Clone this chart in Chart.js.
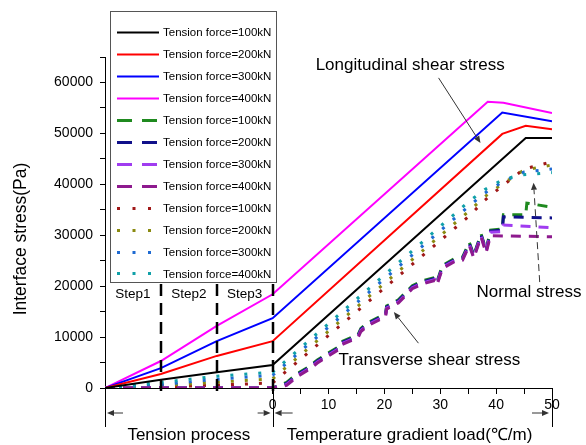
<!DOCTYPE html>
<html>
<head>
<meta charset="utf-8">
<script src="https://cdn.jsdelivr.net/npm/chart.js@4.4.0/dist/chart.umd.min.js"></script>
<style>
  html, body { margin: 0; padding: 0; background: #fff; }
  #wrap { width: 586px; height: 445px; position: relative; }
</style>
</head>
<body>
<div id="wrap"><canvas id="chart" width="586" height="445"></canvas></div>
<script>
  // x: -30..0 = tension process (3 steps), 0..50 = temperature gradient load
  const tensionLabels = ['Tension force=100kN', 'Tension force=200kN', 'Tension force=300kN', 'Tension force=400kN'];

  // longitudinal shear stress (solid)
  const longi100 = [[-30, 0], [-20, 1600], [-10, 3100], [0, 4500], [45.3, 49100], [50, 49100]];
  const longi200 = [[-30, 0], [-20, 2750], [-10, 6300], [0, 9200], [41.1, 49900], [45.3, 51500], [50, 50800]];
  const longi300 = [[-30, 0], [-20, 3900], [-10, 9200], [0, 13700], [41.1, 54100], [50, 52400]];
  const longi400 = [[-30, 0], [-20, 5300], [-10, 12200], [0, 18400], [38.5, 56200], [41.3, 56000], [50, 54000]];

  // transverse shear stress (dashed)
  const trans100 = [[-30, 0], [-20, 0], [-10, 0], [0, 0], [2.5, 1100], [4.5, 2900], [6.5, 4200], [8, 5500], [10, 6900], [11.8, 8100], [12.3, 9100], [14.5, 10100], [15.3, 10500], [15.8, 11700], [17, 12800], [19.5, 14200], [20.2, 14500], [20.4, 16100], [22.5, 17300], [25, 20100], [27, 21100], [29, 21700], [29.4, 20800], [30.4, 24100], [32.7, 25500], [34, 25700], [35.2, 28600], [36, 26100], [37.3, 30300], [38.2, 27100], [39, 31000], [41.1, 31200], [41.3, 34000], [45.3, 34000], [45.5, 36300], [50, 35500]];
  const trans200 = [[-30, 0], [-20, 0], [-10, 0], [0, 0], [2.5, 900], [4.5, 2700], [6.5, 4000], [8, 5300], [10, 6700], [11.8, 7900], [12.3, 8900], [14.5, 9900], [15.3, 10300], [15.8, 11500], [17, 12600], [19.5, 14000], [20.2, 14300], [20.4, 15900], [22.5, 17100], [25, 19900], [27, 20900], [29, 21500], [29.4, 20600], [30.4, 23900], [32.7, 25300], [34, 25500], [35.2, 28400], [36, 25900], [37.3, 30100], [38.2, 26900], [39, 30800], [41.1, 31000], [41.3, 33600], [50, 33400]];
  const trans300 = [[-30, 0], [-20, 0], [-10, 0], [0, 0], [2.5, 700], [4.5, 2500], [6.5, 3800], [8, 5100], [10, 6500], [11.8, 7700], [12.3, 8700], [14.5, 9700], [15.3, 10100], [15.8, 11300], [17, 12400], [19.5, 13800], [20.2, 14100], [20.4, 15700], [22.5, 16900], [25, 19700], [27, 20700], [29, 21300], [29.4, 20400], [30.4, 23700], [32.7, 25100], [34, 25300], [35.2, 28200], [36, 25700], [37.3, 29900], [38.2, 26700], [39, 30600], [41.1, 30700], [41.3, 32000], [50, 31500]];
  const trans400 = [[-30, 0], [-20, 0], [-10, 0], [0, 0], [2.5, 500], [4.5, 2300], [6.5, 3600], [8, 4900], [10, 6300], [11.8, 7500], [12.3, 8500], [14.5, 9500], [15.3, 9900], [15.8, 11100], [17, 12200], [19.5, 13600], [20.2, 13900], [20.4, 15500], [22.5, 16700], [25, 19500], [27, 20500], [29, 21100], [29.4, 20200], [30.4, 23500], [32.7, 24900], [34, 25100], [35.2, 28000], [36, 25500], [37.3, 29700], [38.2, 26500], [39, 29900], [50, 29700]];

  // normal stress (dotted)
  const normal100 = [[-30, 0], [-20, 200], [-10, 550], [0, 1000], [35, 33600], [38, 36900], [41, 39600], [45, 43000], [50, 44400]];
  const normal200 = [[-30, 0], [-20, 450], [-10, 1150], [0, 1800], [35, 34600], [38, 37600], [41, 40000], [45, 42800], [50, 43800]];
  const normal300 = [[-30, 0], [-20, 700], [-10, 1700], [0, 2500], [35, 35600], [38, 38300], [41, 40400], [45, 42400], [50, 43000]];
  const normal400 = [[-30, 0], [-20, 1100], [-10, 2300], [0, 3100], [35, 36500], [38, 39000], [41, 40800], [44, 41800], [50, 42300]];

  const solidColors = ['#000000', '#ff0000', '#0000ff', '#ff00ff'];
  const dashColors = ['#1f8a1f', '#10108a', '#a03cf0', '#8e1a8e'];
  const dotColors = ['#a01818', '#8a8a10', '#1e6ad2', '#10a0a8'];

  const stepLabels = ['Step1', 'Step2', 'Step3'];

  function toXY(pairs) {
    return pairs.map(p => ({ x: p[0], y: p[1] }));
  }

  function makeSet(label, pairs, color, kind, order) {
    const set = {
      label: label,
      data: toXY(pairs),
      borderColor: color,
      backgroundColor: color,
      borderWidth: kind === 'solid' ? 2 : 3,
      pointRadius: 0,
      tension: 0,
      fill: false,
      order: order
    };
    if (kind === 'dash') set.borderDash = [10, 8];
    if (kind === 'dot') set.borderDash = [3, 11];
    return set;
  }

  const datasets = [];
  [longi100, longi200, longi300, longi400].forEach((d, i) => datasets.push(makeSet(tensionLabels[i], d, solidColors[i], 'solid', i)));
  [trans100, trans200, trans300, trans400].forEach((d, i) => datasets.push(makeSet(tensionLabels[i], d, dashColors[i], 'dash', 8 - i)));
  [normal100, normal200, normal300, normal400].forEach((d, i) => datasets.push(makeSet(tensionLabels[i], d, dotColors[i], 'dot', 12 - i)));

  const FONT = "'Liberation Sans', Arial, sans-serif";

  function arrow(ctx, x1, y1, x2, y2, dashed) {
    ctx.save();
    ctx.strokeStyle = '#333';
    ctx.fillStyle = '#333';
    ctx.lineWidth = 1;
    if (dashed) ctx.setLineDash([7, 4]);
    const ang = Math.atan2(y2 - y1, x2 - x1);
    const hx = x2 - Math.cos(ang) * 7, hy = y2 - Math.sin(ang) * 7;
    ctx.beginPath();
    ctx.moveTo(x1, y1);
    ctx.lineTo(hx, hy);
    ctx.stroke();
    ctx.setLineDash([]);
    ctx.beginPath();
    ctx.moveTo(x2, y2);
    ctx.lineTo(hx + Math.sin(ang) * 3, hy - Math.cos(ang) * 3);
    ctx.lineTo(hx - Math.sin(ang) * 3, hy + Math.cos(ang) * 3);
    ctx.closePath();
    ctx.fill();
    ctx.restore();
  }

  // legend box, step marks, annotations and the area under the x axis
  const decor = {
    id: 'decor',
    afterDraw(chart) {
      const { ctx, chartArea: a, scales: { x, y } } = chart;
      const px = v => x.getPixelForValue(v);
      const py = v => y.getPixelForValue(v);

      // legend
      const lg = { left: a.left + 5, top: 11, w: 166, h: 271 };
      ctx.save();
      ctx.fillStyle = '#fff';
      ctx.fillRect(lg.left, lg.top, lg.w, lg.h);
      ctx.strokeStyle = '#555';
      ctx.lineWidth = 1;
      ctx.strokeRect(lg.left + 0.5, lg.top + 0.5, lg.w, lg.h);
      ctx.font = '11.5px ' + FONT;
      ctx.textBaseline = 'middle';
      chart.data.datasets.forEach((ds, i) => {
        const ry = lg.top + 21 + i * 21.95;
        ctx.beginPath();
        ctx.strokeStyle = ds.borderColor;
        ctx.lineWidth = ds.borderWidth;
        const dash = ds.borderDash ? (ds.borderDash[0] > 5 ? [15, 10] : [3, 12.5]) : [];
        ctx.setLineDash(dash);
        ctx.moveTo(lg.left + 7, Math.round(ry) + 0.5);
        ctx.lineTo(lg.left + 49, Math.round(ry) + 0.5);
        ctx.stroke();
        ctx.setLineDash([]);
        ctx.fillStyle = '#000';
        ctx.fillText(ds.label, lg.left + 53, ry + 1);
      });

      // step separators
      const stepTop = lg.top + lg.h + 2;
      ctx.strokeStyle = '#000';
      ctx.lineWidth = 2.5;
      ctx.setLineDash([12, 7]);
      [-20, -10, 0].forEach(v => {
        ctx.beginPath();
        ctx.moveTo(Math.round(px(v)), stepTop);
        ctx.lineTo(Math.round(px(v)), a.bottom + 6);
        ctx.stroke();
      });
      ctx.setLineDash([]);
      ctx.font = '13.5px ' + FONT;
      ctx.textAlign = 'center';
      ctx.fillStyle = '#000';
      [-25, -15, -5].forEach((v, i) => ctx.fillText(stepLabels[i], px(v), stepTop + 10));

      // lines below the axis
      ctx.lineWidth = 1;
      ctx.strokeStyle = '#000';
      [-30, 0, 50].forEach(v => {
        const xx = Math.round(px(v)) + 0.5;
        ctx.beginPath();
        ctx.moveTo(xx, a.bottom);
        ctx.lineTo(xx, a.bottom + 39);
        ctx.stroke();
      });
      const ay = a.bottom + 25;
      arrow(ctx, px(-30) + 18, ay, px(-30) + 2, ay);
      arrow(ctx, px(0) - 15, ay, px(0) - 2, ay);
      arrow(ctx, px(0) + 20, ay, px(0) + 2, ay);
      arrow(ctx, px(50) - 20, ay, px(50) - 3, ay);

      ctx.font = '17px ' + FONT;
      ctx.textAlign = 'center';
      ctx.fillText('Tension process', px(-15), a.bottom + 47);
      ctx.fillText('Temperature gradient load(\u2103/m)', px(24.5), a.bottom + 47);

      // y axis title
      ctx.save();
      ctx.translate(21, 239);
      ctx.rotate(-Math.PI / 2);
      ctx.font = '17.5px ' + FONT;
      ctx.fillText('Interface stress(Pa)', 0, 0);
      ctx.restore();

      // curve annotations
      ctx.font = '17px ' + FONT;
      ctx.textAlign = 'left';
      ctx.fillText('Longitudinal shear stress', px(7.7), py(63400));
      ctx.fillText('Normal stress', px(36.5), py(18700));
      ctx.fillText('Transverse shear stress', px(11.8), py(5500));
      arrow(ctx, px(29.7), py(60900), px(37.2), py(48100));
      arrow(ctx, px(47.8), py(20800), px(46.7), py(40300), true);
      arrow(ctx, px(26.1), py(8800), px(21.7), py(14900));
      ctx.restore();
    }
  };

  Chart.defaults.font.family = FONT;
  Chart.defaults.color = '#000';

  new Chart(document.getElementById('chart'), {
    type: 'line',
    data: { datasets: datasets },
    options: {
      responsive: false,
      animation: false,
      devicePixelRatio: 1,
      layout: { padding: { top: 57, right: 34, left: 0, bottom: 0 } },
      scales: {
        x: {
          type: 'linear',
          min: -30,
          max: 50,
          afterFit: s => { s.height = 57; },
          ticks: {
            stepSize: 5,
            autoSkip: false,
            maxRotation: 0,
            padding: 3,
            font: { size: 14 },
            callback: v => (v >= 0 && v % 10 === 0) ? v : ''
          },
          grid: {
            drawOnChartArea: false,
            tickLength: 6,
            color: c => (c.tick && c.tick.value < 0) ? 'rgba(0,0,0,0)' : '#000'
          },
          border: { color: '#000', width: 1 }
        },
        y: {
          min: 0,
          max: 65000,
          afterFit: s => { s.width = 105; },
          ticks: {
            stepSize: 5000,
            padding: 7,
            font: { size: 14 },
            callback: v => v % 10000 === 0 ? v : ''
          },
          grid: { drawOnChartArea: false, tickLength: 5, color: '#000' },
          border: { color: '#000', width: 1 }
        }
      },
      plugins: {
        legend: { display: false },
        tooltip: { enabled: false }
      }
    },
    plugins: [decor]
  });
</script>
</body>
</html>
